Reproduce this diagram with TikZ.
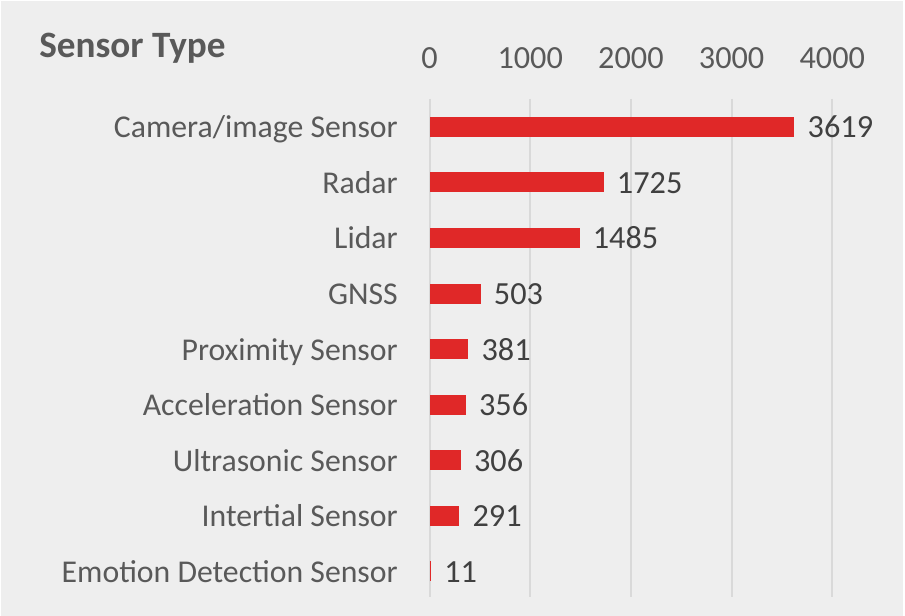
\documentclass[tikz,border=0pt]{standalone}
\usepackage{fontspec}
\setmainfont{Carlito}
\definecolor{panel}{HTML}{EEEEEE}
\definecolor{grid}{HTML}{D9D9D9}
\definecolor{barred}{HTML}{E02828}
\definecolor{axistext}{HTML}{595959}
\definecolor{valtext}{HTML}{404040}
\tikzset{
  ticklabel/.style={anchor=base, text=axistext, font=\fontsize{24.2}{28}\selectfont, inner sep=0pt},
  catlabel/.style={anchor=base east, text=axistext, font=\fontsize{23.8}{28}\selectfont, inner sep=0pt},
  vallabel/.style={anchor=base west, text=valtext, font=\fontsize{24.2}{28}\selectfont, inner sep=0pt},
  gridline/.style={draw=grid, line width=1.5pt},
  barbox/.style={fill=barred, draw=none},
}
\begin{document}
\begin{tikzpicture}[x=0.75pt, y=-0.75pt]
  % canvas
  \fill[white] (0,0) rectangle (905,616);
  \fill[panel] (1,1) rectangle (903,616);
  \useasboundingbox (0,0) rectangle (905,616);

  % title
  \node[anchor=base west, text=axistext, font=\fontsize{27.9}{32}\bfseries\selectfont, inner sep=0pt] (title) at (39,58) {Sensor Type};

  % vertical gridlines and tick labels (0..4000, 100.7 px per 1000)
  \foreach \k in {0,1,2,3,4} {
    \pgfmathsetmacro{\gx}{429.5+100.7*\k}
    \coordinate (gtop\k) at (\gx,99);
    \coordinate (gbot\k) at (\gx,597);
    \draw[gridline] (gtop\k) -- (gbot\k);
    \pgfmathtruncatemacro{\tv}{1000*\k}
    \node[ticklabel] (tick\k) at (\gx,68.5) {\tv};
  }

  % bars with category and value labels
  \foreach \i/\v/\name in {
      0/3619/{Camera/image Sensor},
      1/1725/Radar,
      2/1485/Lidar,
      3/503/GNSS,
      4/381/Proximity Sensor,
      5/356/Acceleration Sensor,
      6/306/Ultrasonic Sensor,
      7/291/Intertial Sensor,
      8/11/Emotion Detection Sensor} {
    \pgfmathsetmacro{\cy}{127+55.5*\i}
    \pgfmathsetmacro{\bx}{430+0.1007*\v}
    \path[barbox] (430,\cy-10) rectangle (\bx,\cy+10);
    \coordinate (bar\i) at (\bx,\cy);
    \node[catlabel] (cat\i) at (398,\cy+11) {\name};
    \node[vallabel] (val\i) at (\bx+13,\cy+11) {\v};
  }
\end{tikzpicture}
\end{document}
